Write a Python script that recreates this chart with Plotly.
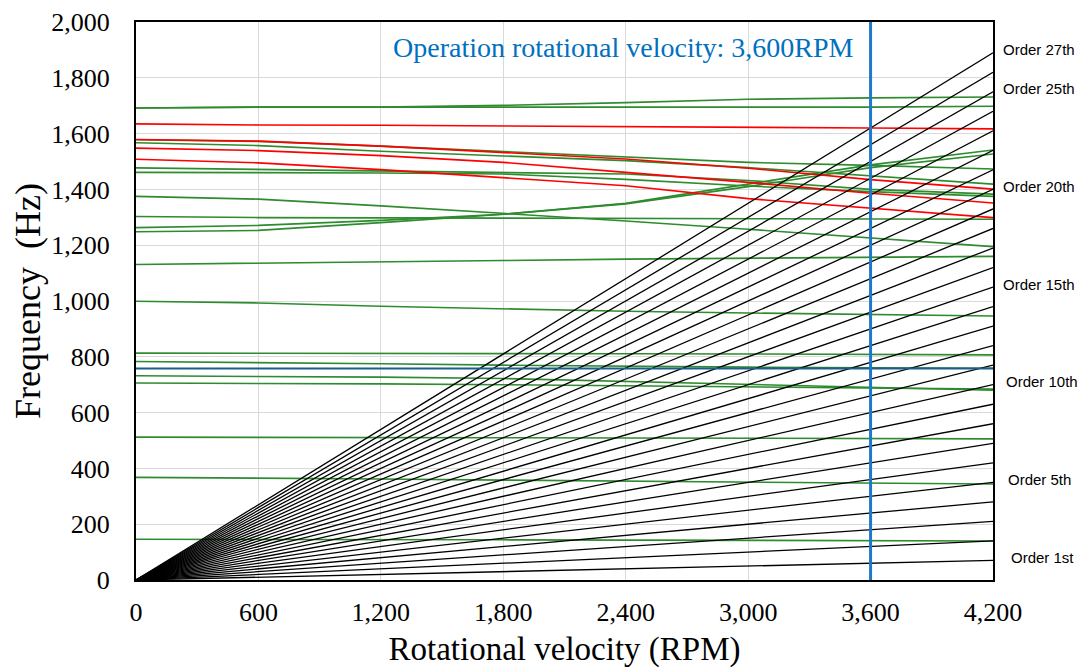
import plotly.graph_objects as go

# ---------------- data ----------------
RPM = [0, 600, 1200, 1800, 2400, 3000, 3600, 4200]

# natural frequencies (Hz) of each mode at the RPM points above
GREEN_MODES = {
    "A1": [1692, 1695, 1695, 1701, 1711, 1723, 1728, 1731],
    "A2": [1692, 1695, 1695, 1695, 1695, 1695, 1695, 1698],
    "B1": [1578, 1572, 1555, 1535, 1515, 1497, 1486, 1473],
    "B2": [1567, 1557, 1537, 1520, 1503, 1478, 1448, 1419],
    "C":  [1477, 1471, 1465, 1460, 1455, 1432, 1400, 1383],
    "D":  [1461, 1461, 1459, 1455, 1436, 1412, 1392, 1375],
    "E":  [1375, 1365, 1341, 1315, 1287, 1257, 1227, 1195],
    "F":  [1303, 1299, 1298, 1297, 1295, 1295, 1294, 1293],
    "G":  [1263, 1271, 1289, 1311, 1350, 1418, 1488, 1541],
    "H":  [1248, 1253, 1281, 1311, 1348, 1410, 1478, 1527],
    "I":  [1131, 1135, 1140, 1145, 1150, 1154, 1157, 1160],
    "J":  [999, 993, 981, 972, 963, 957, 951, 946],
    "K":  [813, 813, 812, 812, 811, 810, 809, 807],
    "L":  [783, 780, 775, 770, 766, 763, 761, 759],
    "M":  [732, 730, 727, 722, 712, 700, 690, 680],
    "N":  [706, 705, 703, 700, 696, 692, 688, 684],
    "O":  [512, 512, 511, 510, 509, 508, 507, 506],
    "P":  [368, 366, 362, 358, 354, 350, 347, 344],
    "Q":  [146, 146, 145, 144, 143, 142, 141, 140],
}
RED_MODES = {
    "R1": [1635, 1631, 1630, 1628, 1626, 1622, 1620, 1617],
    "R2": [1579, 1573, 1555, 1533, 1509, 1476, 1435, 1401],
    "R3": [1548, 1539, 1521, 1497, 1461, 1425, 1386, 1351],
    "R4": [1508, 1495, 1471, 1443, 1413, 1367, 1332, 1299],
}

# excitation order lines: frequency at 0 RPM and at 4200 RPM
ORDER_RPM = [0, 4200]
ORDERS = list(range(1, 28))
ORDER_FREQ_END = [70, 140, 210, 280, 350, 420, 490, 560, 630, 700,
                  770, 840, 910, 980, 1050, 1120, 1190, 1260, 1330, 1400,
                  1470, 1540, 1610, 1680, 1750, 1820, 1890]
ORDER_LABELS = {27: "Order 27th", 25: "Order 25th", 20: "Order 20th",
                15: "Order 15th", 10: "Order 10th", 5: "Order 5th", 1: "Order 1st"}

OPERATION_RPM = 3600
REFERENCE_FREQ = 758
FREQ_RANGE = [0, 2000]
RPM_RANGE = [0, 4200]

# ---------------- figure ----------------
fig = go.Figure()

for name, f in GREEN_MODES.items():
    fig.add_trace(go.Scatter(x=RPM, y=f, mode="lines", name=name,
                             line=dict(color="#2e8b2e", width=1.6),
                             showlegend=False, hoverinfo="skip"))
for name, f in RED_MODES.items():
    fig.add_trace(go.Scatter(x=RPM, y=f, mode="lines", name=name,
                             line=dict(color="#ff0000", width=1.6),
                             showlegend=False, hoverinfo="skip"))
for k, fend in zip(ORDERS, ORDER_FREQ_END):
    fig.add_trace(go.Scatter(x=ORDER_RPM, y=[0, fend], mode="lines",
                             name=f"Order {k}",
                             line=dict(color="#000000", width=1.3),
                             showlegend=False, hoverinfo="skip"))

# horizontal reference frequency line
fig.add_trace(go.Scatter(x=RPM_RANGE, y=[REFERENCE_FREQ, REFERENCE_FREQ],
                         mode="lines", line=dict(color="#1b5e8c", width=2.2),
                         showlegend=False, hoverinfo="skip"))
# operation speed line
fig.add_trace(go.Scatter(x=[OPERATION_RPM, OPERATION_RPM], y=FREQ_RANGE,
                         mode="lines", line=dict(color="#1f78c8", width=3),
                         showlegend=False, hoverinfo="skip"))

fig.add_annotation(x=2385, y=1910, xref="x", yref="y",
                   text="Operation rotational velocity: 3,600RPM",
                   showarrow=False, xanchor="center", yanchor="middle",
                   font=dict(family="Liberation Serif", size=28, color="#0070c0"))

label_shift = {27: 8, 25: 8, 20: 8, 15: 8, 10: 11, 5: 13, 1: 16}
for k, fend in zip(ORDERS, ORDER_FREQ_END):
    if k in ORDER_LABELS:
        fig.add_annotation(x=RPM_RANGE[1], y=fend, xref="x", yref="y",
                           text=ORDER_LABELS[k], showarrow=False,
                           xanchor="left", yanchor="middle",
                           xshift=label_shift[k], yshift=3,
                           font=dict(family="Liberation Sans", size=15, color="#000000"))

# page body has an 8 px margin, so the figure is sized/offset accordingly
fig.update_layout(
    width=1081, height=661,
    margin=dict(l=128, r=96, t=14, b=89),
    paper_bgcolor="white", plot_bgcolor="white",
    font=dict(family="Liberation Serif", color="#000000"),
    showlegend=False,
)
fig.update_xaxes(range=RPM_RANGE, dtick=600, tick0=0, tickformat=",",
                 automargin=False,
                 showgrid=True, gridcolor="#d9d9d9", gridwidth=1,
                 showline=True, linecolor="#000000", linewidth=2, mirror=True,
                 ticks="", ticklabelstandoff=8, zeroline=False,
                 tickfont=dict(family="Liberation Serif", size=26, color="#000000"),
                 title=dict(text="Rotational velocity (RPM)", standoff=11,
                            font=dict(family="Liberation Serif", size=33, color="#000000")))
fig.update_yaxes(range=FREQ_RANGE, dtick=200, tick0=0, tickformat=",",
                 automargin=False,
                 showgrid=True, gridcolor="#d9d9d9", gridwidth=1,
                 showline=True, linecolor="#000000", linewidth=2, mirror=True,
                 ticks="", ticklabelstandoff=19, zeroline=False,
                 tickfont=dict(family="Liberation Serif", size=26, color="#000000"),
                 title=dict(text="Frequency  (Hz)", standoff=2,
                            font=dict(family="Liberation Serif", size=36, color="#000000")))

fig.write_html("out.html")
